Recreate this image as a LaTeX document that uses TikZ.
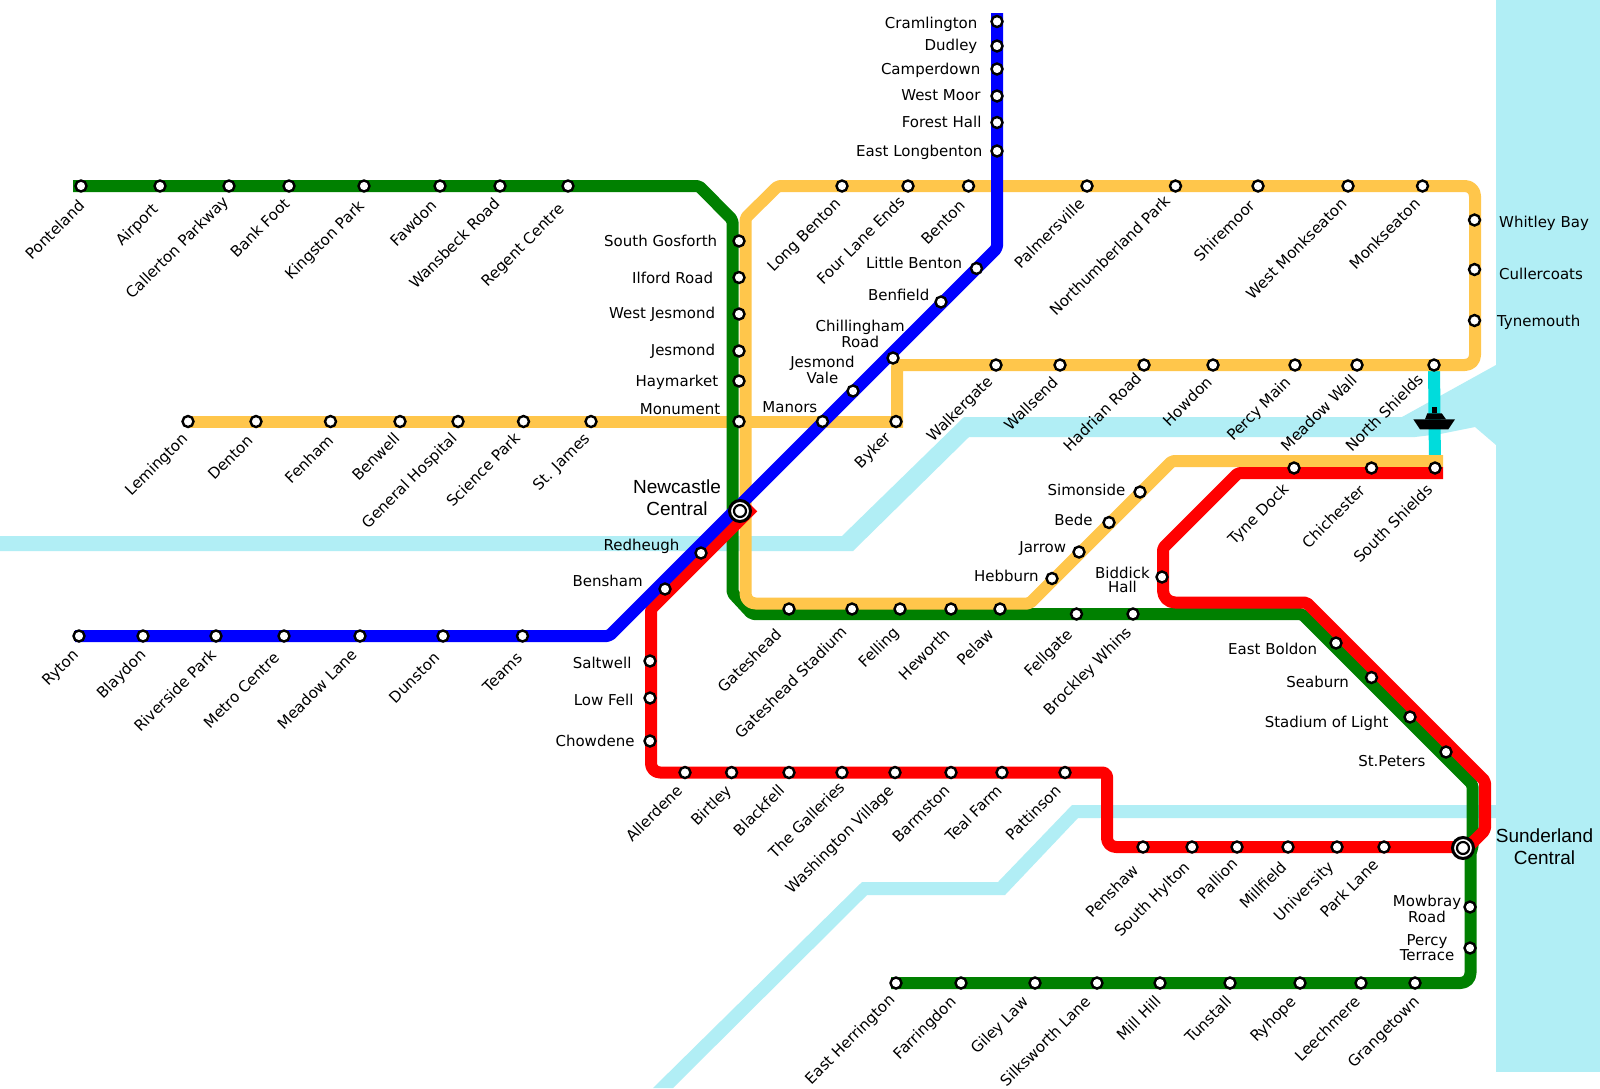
\documentclass[tikz,border=0pt]{standalone}
\usepackage{fontspec}
\setmainfont{DejaVu Sans}
\newfontfamily\bigfont{Liberation Sans}
\pgfdeclarelayer{water}
\pgfdeclarelayer{lines}
\pgfsetlayers{water,lines,main}
\definecolor{lgreen}{HTML}{008000}
\definecolor{lred}{HTML}{FF0000}
\definecolor{lblue}{HTML}{0000FF}
\definecolor{lyellow}{HTML}{FFC64B}
\definecolor{lcyan}{HTML}{00DCDC}
\definecolor{lwater}{HTML}{B1EEF5}
\tikzset{
  x=1pt,y=-1pt,
  stn/.style={circle,draw=black,fill=white,line width=2.4pt,minimum size=11pt,inner sep=0pt,outer sep=0pt},
  hubout/.style={circle,draw=black,fill=white,line width=3pt,minimum size=21pt,inner sep=0pt,outer sep=0pt},
  hubin/.style={circle,draw=black,fill=white,line width=2.2pt,minimum size=12pt,inner sep=0pt,outer sep=0pt},
  dlab/.style={rotate=45,anchor=east,inner sep=0pt,text height=11pt,text depth=3pt,font=\fontsize{15.2}{15.2}\selectfont},
  hlab/.style={inner sep=0pt,align=center,font=\fontsize{15}{14}\selectfont},
  biglab/.style={inner sep=0pt,align=center,font=\bigfont\fontsize{19}{22}\selectfont},
  metro/.style={line width=12pt,line join=round,rounded corners=2pt},
  ygl/.style={metro,draw=lyellow},
  grl/.style={metro,draw=lgreen},
  rdl/.style={metro,draw=lred},
  bll/.style={metro,draw=lblue},
  ferry/.style={line width=12pt,draw=lcyan},
}
% station with diagonal label: id, x, y, label end x, label end y (in shrunk coords), text
\newcommand{\sd}[6]{\node[stn] (#1) at (#2,#3) {};
  \node[dlab] (#1-l) at ({1.0204*#4-2},{1.0204*#5+3}) {#6};}
% station with horizontal label: id, x, y, label x, label y, anchor, text
\newcommand{\sh}[7]{\node[stn] (#1) at (#2,#3) {};
  \node[hlab,anchor=#6] (#1-l) at ({1.0204*#4},{1.0204*#5+1.5}) {#7};}
\begin{document}
\begin{tikzpicture}
\useasboundingbox (0,0) rectangle (1600,1088);
% --- stations: green west
\sd{pon}{81}{186}{83}{197}{Ponteland}
\sd{air}{160}{186}{155}{200}{Airport}
\sd{cal}{229}{186}{224}{193}{Callerton Parkway}
\sd{ban}{289}{186}{284}{195}{Bank Foot}
\sd{kin}{364}{186}{357}{197}{Kingston Park}
\sd{faw}{440}{186}{428}{197}{Fawdon}
\sd{wan}{500}{186}{490}{195}{Wansbeck Road}
\sd{reg}{568}{186}{553}{200}{Regent Centre}
% north-south trunk
\sh{sgo}{739}{241}{703}{235}{east}{South Gosforth}
\sh{ilf}{739}{277.5}{699}{271}{east}{Ilford Road}
\sh{wje}{739}{314}{701}{307}{east}{West Jesmond}
\sh{jes}{739}{351}{701}{343}{east}{Jesmond}
\sh{hay}{739}{381}{704}{373}{east}{Haymarket}
\sh{mon}{739}{421.5}{706}{399}{east}{Monument}
% yellow west
\sd{lem}{188}{421.5}{184}{425}{Lemington}
\sd{den}{256}{421.5}{248}{427}{Denton}
\sd{fen}{330.5}{421.5}{327}{427}{Fenham}
\sd{ben}{400}{421.5}{392}{425}{Benwell}
\sd{gen}{458}{421.5}{448}{425}{General Hospital}
\sd{sci}{523.5}{421.5}{510}{425}{Science Park}
\sd{stj}{591}{421.5}{578}{425}{St. James}
\sd{byk}{896}{421.5}{873}{424}{Byker}
% yellow top
\sd{lob}{842}{186}{824}{195}{Long Benton}
\sd{fle}{908}{186}{887}{193}{Four Lane Ends}
\sd{bnt}{968.5}{186}{946}{197}{Benton}
\sd{pal}{1087}{186}{1063}{195}{Palmersville}
\sd{nor}{1175.5}{186}{1147}{192}{Northumberland Park}
\sd{shi}{1258}{186}{1230}{197}{Shiremoor}
\sd{wmo}{1348}{186}{1320}{195}{West Monkseaton}
\sd{mse}{1422.5}{186}{1392}{195}{Monkseaton}
\sh{whi}{1474.5}{220}{1469}{217}{west}{Whitley Bay}
\sh{cul}{1474.5}{269.5}{1469}{267}{west}{Cullercoats}
\sh{tyn}{1474.5}{320.5}{1467}{314}{west}{Tynemouth}
% yellow middle
\sd{wal}{996}{365}{973}{369}{Walkergate}
\sd{wls}{1060}{365}{1037}{370}{Wallsend}
\sd{had}{1144}{365}{1119}{366}{Hadrian Road}
\sd{how}{1213}{365}{1188}{370}{Howdon}
\sd{per}{1295}{365}{1265}{370}{Percy Main}
\sd{mea}{1357}{365}{1330}{368}{Meadow Wall}
\sd{nsh}{1434}{365}{1395}{367}{North Shields}
% yellow lower
\sh{sim}{1140}{492}{1103}{479}{east}{Simonside}
\sh{bed}{1109}{522.5}{1071}{508}{east}{Bede}
\sh{jar}{1079}{552}{1045}{536}{east}{Jarrow}
\sh{heb}{1052}{578.5}{1018}{563}{east}{Hebburn}
\sd{pel}{1000}{609}{974}{617}{Pelaw}
\sd{hew}{951}{609}{931}{617}{Heworth}
\sd{fel}{900}{609}{881}{615}{Felling}
\sd{gst}{852}{609}{830}{615}{Gateshead Stadium}
\sd{gat}{789}{609}{766}{617}{Gateshead}
\sd{flg}{1076.5}{614}{1051}{617}{Fellgate}
\sd{bro}{1133}{614}{1109}{615}{Brockley Whins}
% blue
\sh{cra}{997}{21.5}{958}{22}{east}{Cramlington}
\sh{dud}{997}{46}{958}{44}{east}{Dudley}
\sh{cam}{997}{69}{961}{67}{east}{Camperdown}
\sh{wmr}{997}{96}{961}{92}{east}{West Moor}
\sh{foh}{997}{122.5}{962}{118}{east}{Forest Hall}
\sh{elo}{997}{151}{963}{148}{east}{East Longbenton}
\sh{lib}{976.5}{268.4}{943}{256}{east}{Little Benton}
\sh{bef}{941}{302}{911}{288}{east}{Benfield}
\sh{chi}{893}{358}{843}{325.5}{center}{Chillingham\\Road}
\sh{jev}{853}{391}{806}{361}{center}{Jesmond\\Vale}
\sh{man}{822.5}{421.5}{747}{398}{west}{Manors}
\sh{red}{701}{553}{666}{534}{east}{Redheugh}
\sh{bes}{665}{589}{630}{568}{east}{Bensham}
\sd{tea}{522.5}{636}{512}{640}{Teams}
\sd{dun}{443}{636}{431}{640}{Dunston}
\sd{mel}{360}{636}{350}{637}{Meadow Lane}
\sd{met}{284}{636}{274}{640}{Metro Centre}
\sd{riv}{216}{636}{212}{637}{Riverside Park}
\sd{bla}{143}{636}{143}{637}{Blaydon}
\sd{ryt}{79}{636}{77}{637}{Ryton}
% red
\sh{sal}{650}{661}{619}{648}{east}{Saltwell}
\sh{low}{650}{698}{621}{684}{east}{Low Fell}
\sh{cho}{650}{741}{622}{725}{east}{Chowdene}
\sd{all}{685}{772.5}{669}{770}{Allerdene}
\sd{bir}{731.6}{772.5}{717}{770}{Birtley}
\sd{blf}{789}{772.5}{769}{770}{Blackfell}
\sd{gal}{842}{772.5}{828}{767}{The Galleries}
\sd{was}{895}{772.5}{876}{770}{Washington Village}
\sd{bar}{951}{772.5}{931}{770}{Barmston}
\sd{tef}{1002}{772.5}{982}{770}{Teal Farm}
\sd{pat}{1065}{772.5}{1040}{770}{Pattinson}
\sd{pen}{1143}{847}{1116}{848}{Penshaw}
\sd{shy}{1192}{847}{1166}{845}{South Hylton}
\sd{pai}{1237}{847}{1213}{842}{Pallion}
\sd{mil}{1288}{847}{1261}{845}{Millfield}
\sd{uni}{1337}{847}{1307}{845}{University}
\sd{par}{1384}{847}{1351}{843}{Park Lane}
\sd{tyd}{1294}{468}{1263}{475}{Tyne Dock}
\sd{chc}{1371.5}{468}{1338}{476}{Chichester}
\sd{ssh}{1435}{468}{1404}{475}{South Shields}
\sh{bid}{1162}{577}{1100}{567}{center}{Biddick\\Hall}
\sh{eab}{1336}{643}{1291}{634}{east}{East Boldon}
\sh{sea}{1371.5}{677.5}{1322}{667}{east}{Seaburn}
\sh{sol}{1410}{717}{1361}{707}{east}{Stadium of Light}
\sh{stp}{1446}{752}{1397}{744}{east}{St.Peters}
% green south
\sh{mow}{1470}{907}{1398.5}{889}{center}{Mowbray\\Road}
\sh{pct}{1470}{948}{1398.5}{927.5}{center}{Percy\\Terrace}
\sd{ehe}{896}{983}{877}{975}{East Herrington}
\sd{far}{961}{983}{937}{977}{Farringdon}
\sd{gil}{1035}{983}{1008}{977}{Giley Law}
\sd{sil}{1097}{983}{1069}{977}{Silksworth Lane}
\sd{mih}{1160}{983}{1138}{977}{Mill Hill}
\sd{tun}{1230}{983}{1207}{977}{Tunstall}
\sd{ryh}{1300}{983}{1270}{977}{Ryhope}
\sd{lee}{1361}{983}{1333}{977}{Leechmere}
\sd{gra}{1415}{983}{1391}{977}{Grangetown}
% hubs
\node[hubout] (ncl) at (740,511) {};
\node[hubin] (ncl-i) at (ncl.center) {};
\node[biglab] (ncl-l) at (677,498) {Newcastle\\Central};
\node[hubout] (sun) at (1463,848) {};
\node[hubin] (sun-i) at (sun.center) {};
\node[biglab] (sun-l) at (1544.5,846.5) {Sunderland\\Central};
% bends and line ends
\coordinate (g0) at (73,186);
\coordinate (g1) at (699,186);
\coordinate (g2) at (732.5,220);
\coordinate (g3) at (732.5,593);
\coordinate (g4) at (752,614);
\coordinate (g5) at (1302,614);
\coordinate (g6) at (1472.5,784.5);
\coordinate (g7) at (1472.5,848);
\coordinate (g8) at (1470.5,852);
\coordinate (g9) at (1470.5,983);
\coordinate (g10) at (891,983);
\coordinate (y0) at (188,421.5);
\coordinate (y1) at (903,421.5);
\coordinate (ya) at (897,427.5);
\coordinate (yb) at (897,365);
\coordinate (yc) at (1475,365);
\coordinate (yd) at (1475,186);
\coordinate (ye) at (778,186);
\coordinate (yf) at (745.5,218);
\coordinate (yg) at (745.5,603.5);
\coordinate (yh) at (1029.5,603.5);
\coordinate (yi) at (1172,461);
\coordinate (yj) at (1443,461);
\coordinate (r0) at (753,507);
\coordinate (r1) at (651,609);
\coordinate (r2) at (651,772.5);
\coordinate (r3) at (1107,772.5);
\coordinate (r4) at (1107,847);
\coordinate (r5) at (1468,847);
\coordinate (r6) at (1485,830);
\coordinate (r7) at (1485,781);
\coordinate (r8) at (1306.5,602.5);
\coordinate (r9) at (1163,602.5);
\coordinate (r10) at (1163,548);
\coordinate (r11) at (1238,473);
\coordinate (r12) at (1443,473);
\coordinate (b0) at (75,636);
\coordinate (b1) at (609,636);
\coordinate (b2) at (997,248);
\coordinate (b3) at (997,13);
\begin{pgfonlayer}{water}
  \fill[white] (0,0) rectangle (1600,1088);
  \fill[lwater] (1496,0) rectangle (1600,1071.5);
  \fill[lwater] (0,536) -- (842,536) -- (964,417) -- (1402,417) -- (1496,365) -- (1496,445) -- (1475,427) -- (1440,434) -- (1415,437) -- (969,437) -- (853,551) -- (0,551) -- cycle;
  \fill[lwater] (1496,805) -- (1072,805) -- (998,882) -- (862,882) -- (653,1088) -- (673,1088) -- (867,895) -- (1005,895) -- (1078,818) -- (1496,818) -- cycle;
\end{pgfonlayer}
\begin{pgfonlayer}{lines}
  \draw[ferry] (nsh.center) -- (ssh.center);
  \draw[ygl] (y0) -- (y1);
  \draw[grl] (g0) -- (g1) -- (g2) -- (g3) -- (g4) -- (g5) -- (g6) -- (g7) -- (g8) [rounded corners=10pt] -- (g9) -- (g10);
  \draw[ygl] (ya) -- (yb) [rounded corners=10pt] -- (yc) -- (yd) [rounded corners=2pt] -- (ye) -- (yf) [rounded corners=10pt] -- (yg) [rounded corners=2pt] -- (yh) -- (yi) -- (yj);
  \draw[rdl] (r0) -- (r1) [rounded corners=9pt] -- (r2) [rounded corners=4pt] -- (r3) [rounded corners=9pt] -- (r4) [rounded corners=2pt] -- (r5) -- (r6) -- (r7) -- (r8) [rounded corners=12pt] -- (r9) [rounded corners=2pt] -- (r10) -- (r11) -- (r12);
  \draw[bll] (b0) -- (b1) -- (b2) -- (b3);
\end{pgfonlayer}
% ferry boat
\fill[black] (1413.3,419.3) -- (1455,419.3) -- (1448.3,429.3) -- (1420,429.3) -- cycle;
\fill[black] (1425,419.3) -- (1427.3,413.3) -- (1441.7,413.3) -- (1446,419.3) -- cycle;
\fill[black] (1432,406.7) rectangle (1437,413.3);
\end{tikzpicture}
\end{document}
